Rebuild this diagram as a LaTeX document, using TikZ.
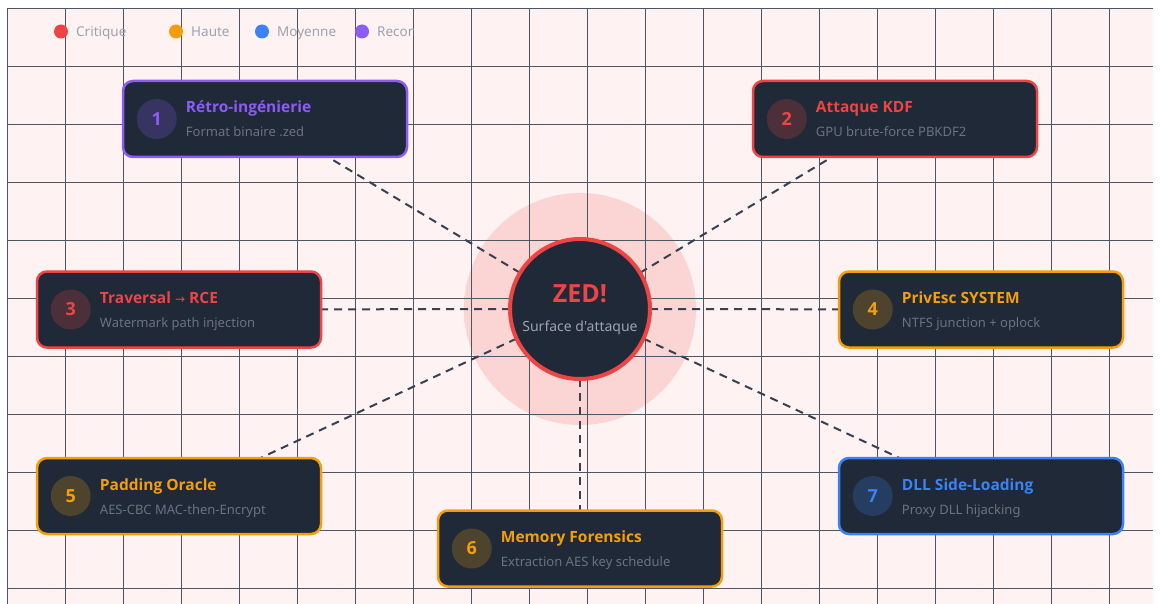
\documentclass[tikz,border=0pt]{standalone}
\usepackage{fontspec}
\setmainfont{Noto Sans}
\newfontfamily\nsplain{Noto Sans}
\newfontfamily\boldf{Open Sans}
\newfontfamily\djv{DejaVu Sans}
\usetikzlibrary{calc}
\definecolor{bgpink}{HTML}{FEF2F2}
\definecolor{gridc}{HTML}{4B5563}
\definecolor{cardbg}{HTML}{1F2937}
\definecolor{cred}{HTML}{EF4444}
\definecolor{corange}{HTML}{F59E0B}
\definecolor{cblue}{HTML}{3B82F6}
\definecolor{cpurple}{HTML}{8B5CF6}
\definecolor{subg}{HTML}{6B7280}
\definecolor{lightg}{HTML}{9CA3AF}
\definecolor{edgec}{HTML}{374151}
\colorlet{glowin}{cred!17!bgpink}
\colorlet{glowout}{cred!3!bgpink}
\pgfdeclareradialshading{glowsh}{\pgfpoint{0bp}{0bp}}{color(0bp)=(glowin); color(26bp)=(glowin); color(50bp)=(glowout)}
\pgfdeclarelayer{back}\pgfdeclarelayer{mid}
\pgfsetlayers{back,mid,main}
\tikzset{
  card/.style={rectangle, rounded corners=10pt, minimum width=284pt, minimum height=76pt, line width=2.5pt, fill=cardbg, inner sep=0pt},
  numc/.style={circle, minimum size=40pt, inner sep=0pt, font=\boldf\bfseries\fontsize{18}{18}\selectfont},
  ttl/.style={anchor=base west, inner sep=0pt, font=\boldf\bfseries\fontsize{15.5}{18}\selectfont},
  subt/.style={anchor=base west, inner sep=0pt, text=subg, font=\fontsize{13}{16}\selectfont},
  gridline/.style={draw=gridc, line width=0.8pt},
  edge/.style={draw=edgec, line width=2pt, dash pattern=on 8pt off 6pt},
  legtext/.style={anchor=base west, inner sep=0pt, text=lightg, font=\fontsize{13.5}{16}\selectfont},
  legdot/.style={circle, minimum size=14pt, inner sep=0pt},
}
\newcommand\mkcard[7]{%
  \node[card, draw=#4] (#1) at (#2,#3) {};
  \node[numc, fill=#4!22!cardbg, text=#4] (#1n) at ($(#1.west)+(35,0)$) {#5};
  \node[ttl, text=#4] (#1t) at ($(#1.west)+(64,-6)$) {#6};
  \node[subt] (#1s) at ($(#1.west)+(64,18)$) {#7};
}
\begin{document}
\begin{tikzpicture}[x=1pt,y=-1pt]
\useasboundingbox (0,0) rectangle (1170,604);
\begin{pgfonlayer}{back}
  \fill[bgpink] (7,8) rectangle (1153,604);
  \shade[shading=glowsh] (580,309) circle[radius=116pt];
  \foreach \x in {7,65,...,1109} \draw[gridline] (\x,8) -- (\x,604);
  \foreach \y in {8,66,...,600} \draw[gridline] (7,\y) -- (1153,\y);
\end{pgfonlayer}

% legend
\begin{scope}
  \clip (0,0) rectangle (413,60);
  \node[legdot, fill=cred] (l1) at (61,31.5) {};
  \node[legtext] (l1t) at (76,37) {Critique};
  \node[legdot, fill=corange] (l2) at (176,31.5) {};
  \node[legtext] (l2t) at (191,37) {Haute};
  \node[legdot, fill=cblue] (l3) at (262,31.5) {};
  \node[legtext] (l3t) at (277,37) {Moyenne};
  \node[legdot, fill=cpurple] (l4) at (362,31.5) {};
  \node[legtext] (l4t) at (377,37) {Recon};
\end{scope}

% centre
\node[circle, minimum size=140pt, inner sep=0pt, fill=cardbg, draw=cred, line width=4pt] (c) at (580,309) {};
\node[anchor=base, inner sep=0pt, text=cred, font=\boldf\bfseries\fontsize{25}{28}\selectfont] (ct) at (580,302) {ZED!};
\node[anchor=base, inner sep=0pt, text=lightg, font=\nsplain\fontsize{14}{16}\selectfont] (cs) at (580,331) {Surface d'attaque};

\mkcard{b1}{265}{119}{cpurple}{1}{Rétro-ingénierie}{Format binaire .zed}
\mkcard{b2}{895}{119}{cred}{2}{Attaque KDF}{GPU brute-force PBKDF2}
\mkcard{b3}{179}{309.5}{cred}{3}{Traversal {\djv\mdseries\fontsize{12}{14}\selectfont →} RCE}{Watermark path injection}
\mkcard{b4}{981}{309.5}{corange}{4}{PrivEsc SYSTEM}{NTFS junction + oplock}
\mkcard{b5}{179}{496}{corange}{5}{Padding Oracle}{AES-CBC MAC-then-Encrypt}
\mkcard{b6}{580}{548.5}{corange}{6}{Memory Forensics}{Extraction AES key schedule}
\mkcard{b7}{981}{496}{cblue}{7}{DLL Side-Loading}{Proxy DLL hijacking}

\begin{pgfonlayer}{mid}
  \foreach \b in {b1,b2,b3,b4,b5,b6,b7} \draw[edge] (c.center) -- (\b.center);
\end{pgfonlayer}
\end{tikzpicture}
\end{document}
